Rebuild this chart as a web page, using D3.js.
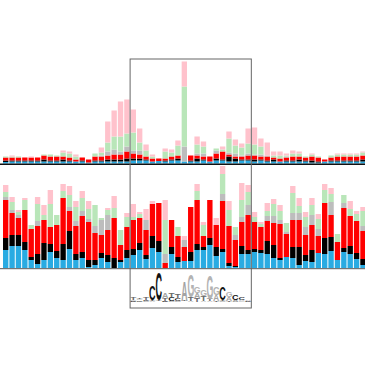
<!DOCTYPE html>
<html><head><meta charset="utf-8">
<script src="https://cdn.jsdelivr.net/npm/d3@7"></script>
<style>html,body{margin:0;padding:0;background:#fff;} svg{display:block;}</style>
</head><body>
<svg id="chart" width="365" height="365"></svg>
<script>
// ---------- data ----------
const positions = d3.range(57);
const seriesKeys = ["blue", "black", "red", "grey", "green", "pink"];
const seriesColors = ["#29abe2", "#000000", "#ff0000", "#bdbdbd", "#b9e6b9", "#ffc2cc"];

// top panel
const topBlue  = [1.5,2,2,2,2,2,2,2,2,2,2,2,2,1,2,2,2,2,2,2,3,3,3,2,2.5,2,3,3,2,2,2,3,2,3,3,2,2,3,3,2,3,2,2,2,2,2,2,2,1,1,2,2,2,2,2,2,2];
const topBlack = [1.5,1,1,1,1,1,2,1,1,2,1,0,1,0,1,1,2,2,2,3,2,2,1,0,0,1,1,2,0,1,3,1,0,2,1,5,3,1,1,2,1,1,2,0,1,1,2,1,2,1,0,1,1,1,1,1,2];
const topRed   = [3,3,3,3,3,3,4,4,4,3,3,2,3,3,4,4,4,5,5,7,5,4,3,3,2.5,2,3,3,0,5,3,3,5,5,8,2,2,3,4,4,3,4,2,3,3,4,3,3,4,4,2,3,4,4,4,4,4];
const topGrey  = [0,0,0,0,0,0,0,0,0,0,0,0,0,0,0,1,4,5,3,5,3,4,0,0,0,0,0,0,15,0,2,3,0,3,0,2,3,1,2,1,2,1,0,0,1,0,0,0,0,0,0,0,0,0,0,0,0];
const topGreen = [1,1,1,0,0,0,1,2,1,4,4,3,0,0,3,3,9,13,15,13,18,8,6,2,0,7,4,10,60,0,9,7,0,2,2,14,8,8,10,10,8,0,2,3,1,3,3,1,2,1,0,2,2,2,2,2,3];
const topPink  = [0,1,0,0,1,0,0,0,0,2,2,2,0,0,0,5,21,26,35,34,23,14,6,2,0,3,3,5,25,0,8,5,0,0,3,7,6,4,15,17,8,13,4,4,2,3,2,0,1,0,0,0,1,1,1,1,1];

// bottom panel
const botBlue  = [18,22,22,18,8,4,8,16,10,8,19,8,10,1,3,10,6,0,6,10,13,18,9,20,16,0,14,6,7,7,18,18,23,12,16,2,1,14,14,16,15,14,10,8,11,10,3,7,6,15,14,17,8,16,14,9,3];
const botBlack = [12,11,11,8,3,10,17,8,7,16,18,6,6,7,5,5,7,10,2,8,6,7,4,12,11,0,7,5,0,9,6,3,7,9,3,3,1,8,4,3,3,13,13,2,0,11,18,6,12,0,16,14,0,4,8,6,6];
const botRed   = [38,22,17,32,28,28,23,17,26,46,20,28,36,38,27,18,25,40,15,23,29,25,25,32,38,5,27,21,14,45,44,11,38,22,48,37,26,24,35,27,23,20,22,34,23,27,27,20,25,17,35,22,18,40,30,32,28];
const botGrey  = [3,3,3,0,0,5,0,0,0,0,4,5,5,3,7,15,15,0,0,0,0,0,10,0,0,9,0,0,7,0,0,0,0,0,7,0,5,5,10,0,0,5,7,4,2,7,7,8,10,7,0,13,0,5,0,0,5];
const botGreen = [5,8,3,10,4,17,5,23,10,7,12,14,13,10,21,2,5,10,15,10,3,4,0,0,0,34,0,9,0,0,9,11,0,0,20,16,8,17,13,5,3,5,12,9,9,20,7,10,10,10,13,8,8,8,7,7,15];
const botPink  = [7,5,2,2,0,7,10,14,0,7,9,6,7,8,0,0,2,12,0,4,13,2,11,3,0,20,0,0,4,0,7,3,0,7,8,9,0,17,7,5,2,8,5,6,0,7,8,5,7,5,6,6,0,0,8,3,4];

// sequence logo (positions 20..38), information in bits
const logoPositions = d3.range(20, 39);
const logoA = [0.05,0.07,0.04,0.04,0.03,0.33,0.04,0.04,1.27,0.04,0.33,0.05,0.04,0.40,0.04,0.27,0.13,0.08,0.07];
const logoC = [0.05,0.05,0.07,1.00,1.80,0.05,0.27,0.20,0.03,0.03,0.03,0.03,0.02,0.02,0.87,0.02,0.33,0.15,0.04];
const logoG = [0.05,0.07,0.04,0.03,0.03,0.04,0.04,0.04,0.03,1.47,0.40,0.40,1.53,0.53,0.05,0.33,0.03,0.04,0.03];
const logoT = [0.13,0.07,0.20,0.07,0.07,0.20,0.27,0.27,0.04,0.27,0.27,0.35,0.13,0.05,0.05,0.05,0.02,0.02,0.02];
const letterColors = {A: "#a3a3a3", C: "#111111", G: "#b3b3b3", T: "#6a6a6a"};

const boxFirst = 20, boxLast = 38;

// ---------- drawing ----------
const svg = d3.select("#chart");
const W = 365;

const x = d3.scaleBand().domain(positions).range([2.5, 2.5 + 57 * 6.38])
  .paddingInner(0.16).paddingOuter(0.08);
const yTop = d3.scaleLinear().domain([0, 100]).range([163.5, 63.5]);
const yBot = d3.scaleLinear().domain([0, 100]).range([268, 168]);
const yLogo = d3.scaleLinear().domain([0, 2]).range([302.3, 272.3]);

function rows(arrs) {
  return positions.map(i => {
    const r = {pos: i};
    seriesKeys.forEach((k, j) => r[k] = arrs[j][i]);
    return r;
  });
}
const stack = d3.stack().keys(seriesKeys);
const color = d3.scaleOrdinal().domain(seriesKeys).range(seriesColors);

function drawPanel(data, y) {
  const g = svg.append("g");
  g.selectAll("g.layer").data(stack(data)).join("g")
    .attr("class", "layer").attr("fill", d => color(d.key))
    .selectAll("rect").data(d => d).join("rect")
    .attr("x", d => x(d.data.pos))
    .attr("width", x.bandwidth())
    .attr("y", d => y(d[1]))
    .attr("height", d => Math.max(0, y(d[0]) - y(d[1])));
}
drawPanel(rows([topBlue, topBlack, topRed, topGrey, topGreen, topPink]), yTop);
drawPanel(rows([botBlue, botBlack, botRed, botGrey, botGreen, botPink]), yBot);

// baselines
svg.append("line").attr("x1", 0).attr("x2", W)
  .attr("y1", yTop(0) + 0.8).attr("y2", yTop(0) + 0.8)
  .attr("stroke", "#111").attr("stroke-width", 1.5);
svg.append("line").attr("x1", 0).attr("x2", W)
  .attr("y1", yBot(0) + 0.7).attr("y2", yBot(0) + 0.7)
  .attr("stroke", "#555").attr("stroke-width", 1);

// highlight box
const gap = x.step() * x.paddingInner();
const bx0 = x(boxFirst) - gap / 2, bx1 = x(boxLast) + x.bandwidth() + gap / 2;
svg.append("rect").attr("x", bx0).attr("y", 59).attr("width", bx1 - bx0).attr("height", 308 - 59)
  .attr("fill", "none").attr("stroke", "#666").attr("stroke-width", 1);

// sequence logo
const FONT = "bold 100px 'Liberation Sans', Arial, sans-serif";
const ctx = document.createElement("canvas").getContext("2d");
ctx.font = FONT;
const metrics = {};
["A", "C", "G", "T"].forEach(L => {
  const m = ctx.measureText(L);
  metrics[L] = {l: m.actualBoundingBoxLeft, r: m.actualBoundingBoxRight,
                a: m.actualBoundingBoxAscent, d: m.actualBoundingBoxDescent};
});
const logoG_ = svg.append("g");
logoPositions.forEach((p, k) => {
  const letters = [
    {L: "A", v: logoA[k]}, {L: "C", v: logoC[k]}, {L: "G", v: logoG[k]}, {L: "T", v: logoT[k]}
  ].sort((a, b) => a.v - b.v);
  let acc = 0;
  const lw = x.bandwidth() + 0.6;
  const lx = x(p) - 0.3;
  letters.forEach(o => {
    const y0 = yLogo(acc), y1 = yLogo(acc + o.v);
    acc += o.v;
    const h = y0 - y1;
    if (h < 0.3) return;
    const m = metrics[o.L];
    const sx = lw / (m.l + m.r), sy = h / (m.a + m.d);
    logoG_.append("text")
      .attr("transform", `translate(${lx},${y0}) scale(${sx},${sy}) translate(${m.l},${-m.d})`)
      .style("font", FONT)
      .attr("fill", letterColors[o.L])
      .text(o.L);
  });
});
</script>
</body></html>
